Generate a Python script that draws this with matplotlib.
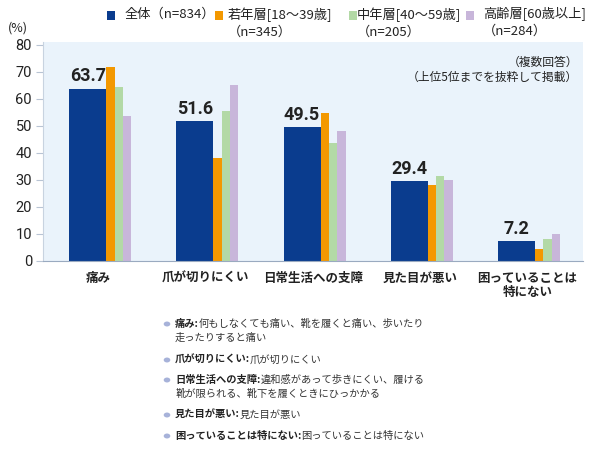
import numpy as np
import matplotlib.pyplot as plt
from matplotlib.patches import Rectangle, Circle

plt.rcParams['font.family'] = ['Noto Sans CJK JP', 'DejaVu Sans']

#%% data

categories = ["痛み", "爪が切りにくい", "日常生活への支障", "見た目が悪い", "困っていることは\n特にない"]
total = [63.7, 51.6, 49.5, 29.4, 7.2]        # 全体
young = [71.6, 38.1, 54.6, 27.9, 4.3]        # 若年層
middle = [64.5, 55.6, 43.6, 31.4, 8.0]       # 中年層
senior = [53.5, 65.2, 48.1, 29.8, 10.0]      # 高齢層

series_labels = ["全体（n=834）", "若年層[18～39歳]\n（n=345）",
                 "中年層[40～59歳]\n（n=205）", "高齢層[60歳以上]\n（n=284）"]
yticks = [0, 10, 20, 30, 40, 50, 60, 70, 80]

note_heads = ["痛み:", "爪が切りにくい:", "日常生活への支障:", "見た目が悪い:", "困っていることは特にない:"]
note_lines = [["何もしなくても痛い、靴を履くと痛い、歩いたり", "走ったりすると痛い"],
              ["爪が切りにくい"],
              ["違和感があって歩きにくい、履ける", "靴が限られる、靴下を履くときにひっかかる"],
              ["見た目が悪い"],
              ["困っていることは特にない"]]

colors = ["#0a3c8e", "#f39800", "#b3d9a6", "#c8b6da"]
bg = "#eaf3fb"
txt = "#222222"

#%% figure

W, H = 600, 450
fig = plt.figure(figsize=(W / 100, H / 100), dpi=100)

def fx(px):   # pixel -> figure coords
    return px / W

def fy(py):
    return 1 - py / H

ax = fig.add_axes([fx(43), fy(260.7), fx(583) - fx(43), fy(42) - fy(260.7)])
ax.set_facecolor(bg)

x = np.arange(len(categories))
start = x - 0.275
wb = 0.345   # wide bar for 全体
ws = 0.078   # narrow bars

ax.bar(start, total, wb, align='edge', color=colors[0])
ax.bar(start + wb, young, ws, align='edge', color=colors[1])
ax.bar(start + wb + ws, middle, ws, align='edge', color=colors[2])
ax.bar(start + wb + 2 * ws, senior, ws, align='edge', color=colors[3])

for xi, v in zip(start + wb / 2, total):
    ax.text(xi, v + 1.3, f"{v:.1f}", ha='center', va='bottom',
            fontsize=13, fontweight='bold', color=txt, family=['Roboto', 'DejaVu Sans'])

ax.set_xlim(-0.52, 4.52)
ax.set_ylim(0, 81)
ax.set_yticks(yticks)
ax.set_yticklabels([str(t) for t in yticks], fontsize=10.5, color=txt, family=['Roboto', 'DejaVu Sans'])
ax.set_xticks(x)
ax.set_xticklabels(categories, fontsize=9, fontweight='bold', color=txt, linespacing=1.15)
ax.tick_params(axis='x', length=0, pad=8)
ax.tick_params(axis='y', length=5, color="#b8c4d4", pad=3)

for s in ['top', 'right']:
    ax.spines[s].set_visible(False)
ax.spines['left'].set_color("#c8d3e0")
ax.spines['bottom'].set_color("#9aaac0")

# unit label
fig.text(fx(8), fy(28), "(%)", fontsize=9, color=txt, va='center', ha='left')

# notes inside the plot area
fig.text(fx(578), fy(62), "（複数回答）", fontsize=8.5, color=txt, ha='right', va='center')
fig.text(fx(578), fy(77), "（上位5位までを抜粋して掲載）", fontsize=8.5, color=txt, ha='right', va='center')

# legend drawn by hand so the square sits on the first line
sq_x = [107, 215, 349, 466]
tx_x = [125, 228, 357, 483]
for c, sx, tx, lab in zip(colors, sq_x, tx_x, series_labels):
    fig.add_artist(Rectangle((fx(sx), fy(20)), 8 / W, 9 / H, transform=fig.transFigure,
                             color=c, lw=0))
    fig.text(fx(tx), fy(7.5), lab, fontsize=9.5, color=txt, ha='left', va='top',
             linespacing=1.35)

# explanation list under the chart
ys = [[324, 338], [360], [380, 394], [415], [436]]
for head, lines, yy in zip(note_heads, note_lines, ys):
    fig.add_artist(Circle((fx(167), fy(yy[0])), 3.3 / W, transform=fig.transFigure,
                          color="#a7b2d9", lw=0))
    t = fig.text(fx(175), fy(yy[0]), head, fontsize=7.4, fontweight='bold', color=txt,
                 ha='left', va='center')
    ax.annotate(lines[0], xy=(1, 0.5), xycoords=t, fontsize=7.4, color="#333333",
                ha='left', va='center', annotation_clip=False)
    for ln, y2 in zip(lines[1:], yy[1:]):
        fig.text(fx(175), fy(y2), ln, fontsize=7.4, color="#333333", ha='left', va='center')

fig.savefig("out.png", dpi=100)
